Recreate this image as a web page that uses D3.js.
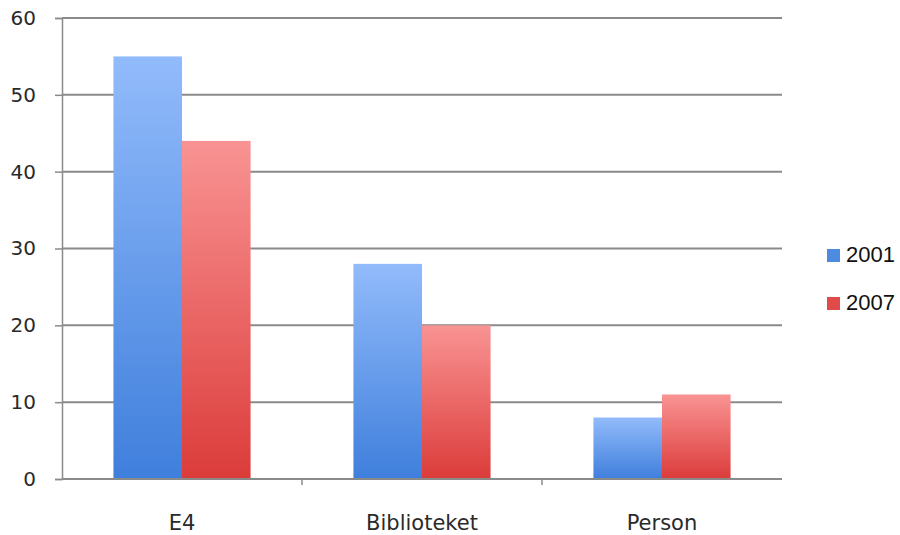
<!DOCTYPE html>
<meta charset="utf-8">
<script src="https://d3js.org/d3.v7.min.js"></script>
<style>
  body { margin: 0; background: #fff; }
</style>
<div id="my_dataviz"></div>
<script>
// data
var categories = ["E4", "Biblioteket", "Person"];
var seriesNames = ["2001", "2007"];
var values2001 = [55, 28, 8];
var values2007 = [44, 20, 11];
var yTicks = [0, 10, 20, 30, 40, 50, 60];

var margin = {top: 18, right: 118, bottom: 56, left: 62},
    width = 900 - margin.left - margin.right,
    height = 535 - margin.top - margin.bottom;

var svg = d3.select("#my_dataviz")
  .append("svg")
    .attr("width", 900)
    .attr("height", 535);

// gradients for the bars
var defs = svg.append("defs");
var grads = [
  {id: "g2001", top: "#92bbfb", bottom: "#3f7fdc"},
  {id: "g2007", top: "#f99393", bottom: "#db3c3a"}
];
grads.forEach(function(g) {
  var lg = defs.append("linearGradient")
    .attr("id", g.id).attr("x1", 0).attr("y1", 0).attr("x2", 0).attr("y2", 1);
  lg.append("stop").attr("offset", "0%").attr("stop-color", g.top);
  lg.append("stop").attr("offset", "100%").attr("stop-color", g.bottom);
});

var g = svg.append("g")
  .attr("transform", "translate(" + margin.left + "," + margin.top + ")");

// scales
var x = d3.scaleBand().domain(categories).range([0, width]).padding(0);
// the two bars take ~137px of each 240px band
var xSub = d3.scaleBand().domain(seriesNames).range([0, x.bandwidth()]).paddingInner(0).paddingOuter(0.75);
var y = d3.scaleLinear().domain([0, 60]).range([height, 0]);
var color = d3.scaleOrdinal().domain(seriesNames).range(["url(#g2001)", "url(#g2007)"]);
var legendColor = d3.scaleOrdinal().domain(seriesNames).range(["#4d8be0", "#e04a48"]);

// y axis
var yAxis = g.append("g")
  .call(d3.axisLeft(y).tickValues(yTicks).tickSize(7).tickPadding(19));
yAxis.select(".domain").attr("stroke", "#8a8a8a").attr("stroke-width", 1.5);
yAxis.selectAll(".tick line").attr("stroke", "#8a8a8a").attr("stroke-width", 1.5);
yAxis.selectAll(".tick text")
  .attr("fill", "#2a2a2a")
  .style("font-family", "'DejaVu Sans', sans-serif")
  .style("font-size", "20px");

// grid lines
g.append("g")
  .selectAll("line")
  .data(yTicks)
  .enter()
  .append("line")
    .attr("x1", 0)
    .attr("x2", width)
    .attr("y1", function(d) { return y(d); })
    .attr("y2", function(d) { return y(d); })
    .attr("stroke", "#8a8a8a")
    .attr("stroke-width", 2);

// bars
var table = categories.map(function(c, i) {
  return {cat: c, vals: [{name: "2001", value: values2001[i]}, {name: "2007", value: values2007[i]}]};
});

g.selectAll("gBar")
  .data(table)
  .enter()
  .append("g")
    .attr("transform", function(d) { return "translate(" + x(d.cat) + ",0)"; })
  .selectAll("rect")
  .data(function(d) { return d.vals; })
  .enter()
  .append("rect")
    .attr("x", function(d) { return xSub(d.name); })
    .attr("width", xSub.bandwidth())
    .attr("y", function(d) { return y(d.value); })
    .attr("height", function(d) { return height - y(d.value); })
    .attr("fill", function(d) { return color(d.name); });

// x axis (ticks between categories, pointing down)
var xAxis = g.append("g")
  .attr("transform", "translate(0," + height + ")");
xAxis.append("line")
  .attr("x1", 0).attr("x2", width)
  .attr("stroke", "#8a8a8a").attr("stroke-width", 2);
xAxis.selectAll("tickMark")
  .data(categories.slice(0, -1))
  .enter()
  .append("line")
    .attr("x1", function(d) { return x(d) + x.bandwidth(); })
    .attr("x2", function(d) { return x(d) + x.bandwidth(); })
    .attr("y1", 0).attr("y2", 6)
    .attr("stroke", "#8a8a8a").attr("stroke-width", 1.5);
xAxis.selectAll("catLabel")
  .data(categories)
  .enter()
  .append("text")
    .attr("x", function(d) { return x(d) + x.bandwidth() / 2; })
    .attr("y", 51)
    .attr("text-anchor", "middle")
    .attr("fill", "#2a2a2a")
    .style("font-family", "'DejaVu Sans', sans-serif")
    .style("font-size", "21px")
    .text(function(d) { return d; });

// legend
var legend = svg.selectAll("myLegend")
  .data(seriesNames)
  .enter()
  .append("g")
    .attr("transform", function(d, i) { return "translate(827," + (249 + i * 48) + ")"; });
legend.append("rect")
  .attr("width", 13).attr("height", 13)
  .attr("fill", function(d) { return legendColor(d); });
legend.append("text")
  .attr("x", 19)
  .attr("y", 13)
  .attr("fill", "#111")
  .style("font-family", "'Liberation Sans', Arial, sans-serif")
  .style("font-size", "22px")
  .text(function(d) { return d; });
</script>
